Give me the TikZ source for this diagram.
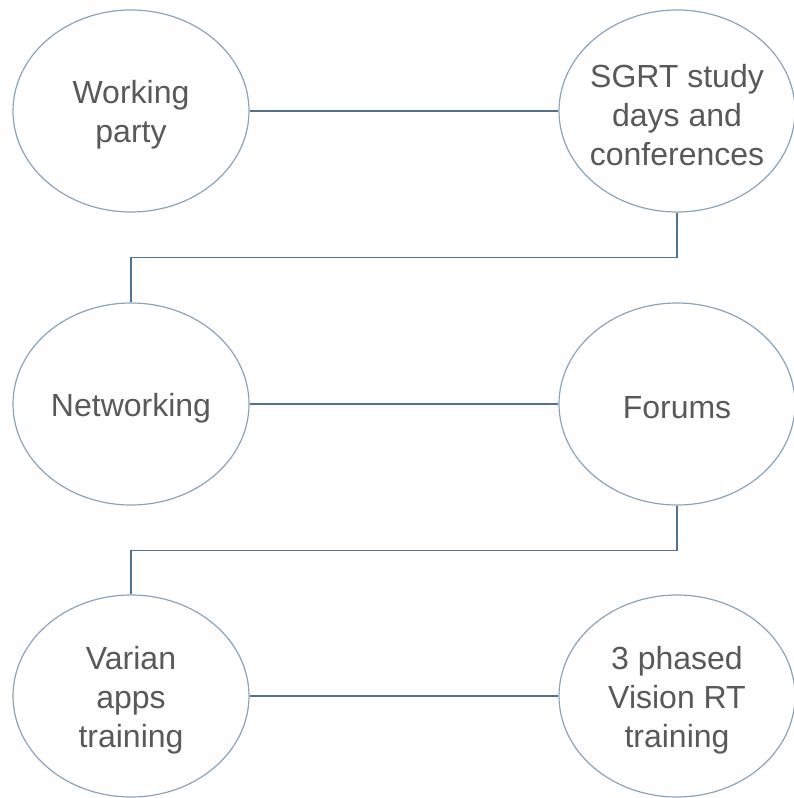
\documentclass[tikz,border=0pt]{standalone}
\usepackage{fontspec}
\setmainfont{Liberation Sans}
\usetikzlibrary{shapes.geometric}
\definecolor{rim}{HTML}{8AA4BC}
\definecolor{wire}{HTML}{4F7391}
\definecolor{txt}{HTML}{595959}
\tikzset{
  bubble/.style={ellipse, draw=rim, line width=1.2pt, fill=white,
    minimum width=236pt, minimum height=202pt, inner sep=0pt},
  words/.style={align=center, text=txt, inner sep=0pt, yshift=-4pt,
    font=\fontsize{32}{39}\selectfont},
  wirel/.style={draw=wire, line width=1.6pt}
}
\begin{document}
\begin{tikzpicture}[x=1pt,y=-1pt]
\useasboundingbox (0,0) rectangle (794,798);
\node[bubble] (wp) at (131,111) {};
\node[words] (wpt) at (wp.center) {Working\\party};
\node[bubble] (sg) at (677,111) {};
\node[words] (sgt) at (sg.center) {SGRT study\\days and\\conferences};
\node[bubble] (nw) at (131,404) {};
\node[words] (nwt) at (nw.center) {Networking};
\node[bubble] (fo) at (677,404) {};
\node[words] (fot) at (fo.center) {Forums};
\node[bubble] (va) at (131,696) {};
\node[words] (vat) at (va.center) {Varian\\apps\\training};
\node[bubble] (vi) at (677,696) {};
\node[words] (vit) at (vi.center) {3 phased\\Vision RT\\training};
\draw[wirel] (wp.east) -- (sg.west);
\draw[wirel] (sg.south) -- ++(0,45) -| (nw.north);
\draw[wirel] (nw.east) -- (fo.west);
\draw[wirel] (fo.south) -- ++(0,45) -| (va.north);
\draw[wirel] (va.east) -- (vi.west);
\end{tikzpicture}
\end{document}
